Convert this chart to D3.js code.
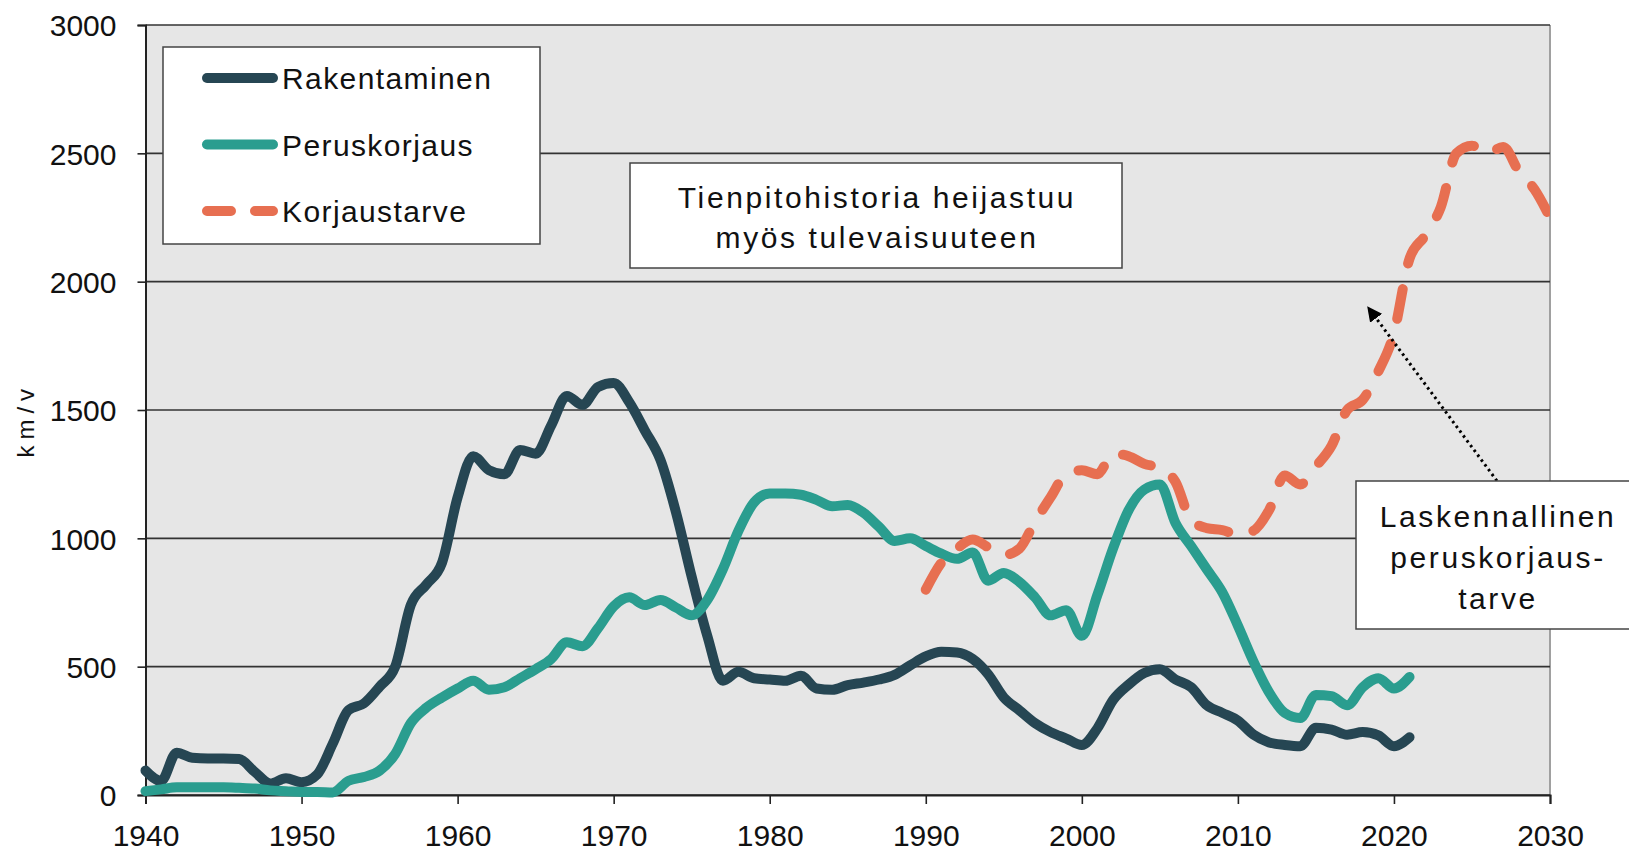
<!DOCTYPE html>
<html>
<head>
<meta charset="utf-8">
<script src="https://cdn.jsdelivr.net/npm/d3@7"></script>
<style>
  body { margin: 0; background: #fff; }
  text { font-family: "Liberation Sans", Arial, sans-serif; fill: #111; }
</style>
</head>
<body>
<div id="chart"></div>
<script>
// yearly values, km per year
var years = d3.range(1940, 2022)
var rakentaminen = [95,55,165,145,142,142,140,90,45,65,
  50,80,200,330,357,422,500,740,820,905,
  1160,1320,1266,1250,1344,1330,1440,1555,1520,1590,
  1605,1530,1420,1305,1100,850,620,445,480,455,
  450,445,465,415,410,428,438,450,468,505,
  540,558,555,530,470,380,330,280,245,220,
  195,260,370,430,475,490,450,420,350,320,
  290,235,205,195,190,262,255,235,245,232,
  190,225]
var peruskorjaus = [15,22,30,30,30,30,28,25,18,15,
  12,12,10,55,70,95,160,280,340,380,
  415,445,410,420,455,490,530,595,580,650,
  735,770,740,760,730,700,760,880,1030,1140,
  1175,1175,1170,1150,1125,1130,1100,1045,990,1000,
  970,940,920,945,835,865,830,770,700,720,
  620,780,960,1110,1190,1210,1060,970,880,790,
  660,520,400,320,300,390,385,350,420,455,
  415,460]
var tarveYears = d3.range(1990, 2031)
var korjaustarve = [800,905,960,995,965,935,960,1065,1160,1250,
  1265,1250,1330,1320,1290,1275,1220,1071,1040,1032,
  1015,1030,1110,1245,1210,1280,1360,1500,1540,1650,
  1800,2090,2180,2290,2500,2530,2500,2525,2430,2360,
  2250]

var xTicks = d3.range(1940, 2031, 10)
var yTicks = [0, 500, 1000, 1500, 2000, 2500, 3000]
var seriesNames = ["Rakentaminen", "Peruskorjaus", "Korjaustarve"]
var colors = ["#264653", "#2a9d8f", "#e76f51"]

var W = 1629, H = 851
var margin = {top: 25, right: 79, bottom: 56, left: 145.5}
var w = W - margin.left - margin.right
var h = H - margin.top - margin.bottom

var svg = d3.select("#chart").append("svg")
  .attr("width", W).attr("height", H)

var g = svg.append("g").attr("transform", `translate(${margin.left},${margin.top})`)

var x = d3.scaleLinear().domain([1940, 2030]).range([0, w])
var y = d3.scaleLinear().domain([0, 3000]).range([h, 0])

// plot background
g.append("rect").attr("width", w).attr("height", h).attr("fill", "#e6e6e6")
g.append("line").attr("x1", w).attr("x2", w).attr("y1", 0).attr("y2", h)
  .attr("stroke", "#a0a0a0").attr("stroke-width", 2)

// gridlines
g.selectAll(".grid").data(yTicks).join("line")
  .attr("x1", 0).attr("x2", w)
  .attr("y1", d => y(d)).attr("y2", d => y(d))
  .attr("stroke", "#333").attr("stroke-width", 1.6)

// axes
var yAxis = g.append("g").call(d3.axisLeft(y).tickValues(yTicks).tickFormat(d3.format("d")).tickSize(8).tickPadding(21))
var xAxis = g.append("g").attr("transform", `translate(0,${h})`)
  .call(d3.axisBottom(x).tickValues(xTicks).tickFormat(d3.format("d")).tickSize(9))
;[yAxis, xAxis].forEach(a => {
  a.select(".domain").attr("stroke", "#222").attr("stroke-width", 2)
  a.selectAll(".tick line").attr("stroke", "#222").attr("stroke-width", 1.6)
  a.selectAll("text").attr("font-size", 30).attr("fill", "#111")
    .style("font-family", '"Liberation Sans", Arial, sans-serif')
})
yAxis.selectAll("text").attr("dy", "0.36em")
xAxis.selectAll("text").attr("y", 51).attr("dy", 0)

svg.append("text")
  .attr("transform", `translate(34,${margin.top + y(1460)}) rotate(-90)`)
  .attr("text-anchor", "middle").attr("font-size", 24)
  .attr("letter-spacing", 6).text("km/v")

// lines
var line = d3.line().x(d => x(d[0])).y(d => y(d[1])).curve(d3.curveMonotoneX)

var series = [
  years.map((yr, i) => [yr, rakentaminen[i]]),
  years.map((yr, i) => [yr, peruskorjaus[i]]),
  tarveYears.map((yr, i) => [yr, korjaustarve[i]])
]

g.append("defs").append("clipPath").attr("id", "clip")
  .append("rect").attr("x", -6).attr("y", -6).attr("width", w + 6).attr("height", h + 12)

series.forEach((s, i) => {
  g.append("path")
    .attr("d", line(s))
    .attr("fill", "none")
    .attr("stroke", colors[i])
    .attr("stroke-width", 10)
    .attr("stroke-linecap", "round")
    .attr("stroke-linejoin", "round")
    .attr("stroke-dasharray", i == 2 ? "30,26" : null)
    .attr("clip-path", "url(#clip)")
})

// legend
var leg = svg.append("g").attr("transform", "translate(163,47)")
leg.append("rect").attr("width", 377).attr("height", 197)
  .attr("fill", "#fff").attr("stroke", "#444").attr("stroke-width", 1.5)
seriesNames.forEach((name, i) => {
  var ly = 31 + i * 66.5
  leg.append("line").attr("x1", 44).attr("x2", 110).attr("y1", ly).attr("y2", ly)
    .attr("stroke", colors[i]).attr("stroke-width", 10).attr("stroke-linecap", "round")
    .attr("stroke-dasharray", i == 2 ? "24,24" : null)
  leg.append("text").attr("x", 119).attr("y", ly + 11)
    .attr("font-size", 30).attr("letter-spacing", 1.4).text(name)
})

// text boxes
function textBox(bx, by, bw, bh, cx, lines, y0, step) {
  svg.append("rect").attr("x", bx).attr("y", by).attr("width", bw).attr("height", bh)
    .attr("fill", "#fff").attr("stroke", "#444").attr("stroke-width", 1.5)
  lines.forEach((t, i) => {
    svg.append("text").attr("x", cx).attr("y", y0 + i * step)
      .attr("text-anchor", "middle").attr("font-size", 30).attr("letter-spacing", 2.6)
      .text(t)
  })
}
textBox(630, 163, 492, 105, 877, ["Tienpitohistoria heijastuu", "myös tulevaisuuteen"], 208, 40)

// arrow to the projected need
var defs = svg.append("defs")
defs.append("marker").attr("id", "arrow").attr("viewBox", "0 0 10 10")
  .attr("refX", 8).attr("refY", 5).attr("markerWidth", 5).attr("markerHeight", 5)
  .attr("orient", "auto")
  .append("path").attr("d", "M0,0 L10,5 L0,10 z").attr("fill", "#000")

svg.append("line")
  .attr("x1", margin.left + x(2026.6)).attr("y1", margin.top + y(1224))
  .attr("x2", margin.left + x(2018.4)).attr("y2", margin.top + y(1895))
  .attr("stroke", "#000").attr("stroke-width", 3)
  .attr("stroke-dasharray", "2.5,3.5")
  .attr("marker-end", "url(#arrow)")

textBox(1356, 481, 300, 148, 1498, ["Laskennallinen", "peruskorjaus-", "tarve"], 527, 41)
</script>
</body>
</html>
